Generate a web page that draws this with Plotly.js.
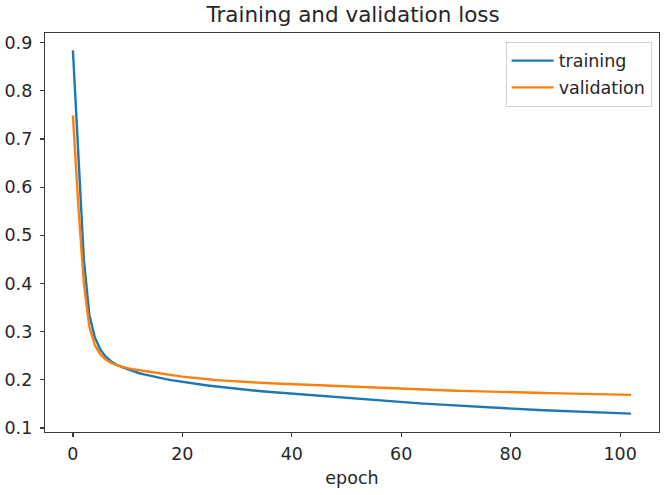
<!DOCTYPE html>
<html>
<head>
<meta charset="utf-8">
<script src="https://cdn.plot.ly/plotly-3.0.1.min.js"></script>
<style>
  html, body { margin: 0; padding: 0; background: #fff; }
  #chart { width: 665px; height: 495px; }
</style>
</head>
<body>
<div id="chart"></div>
<script>
// Loss per epoch for the training run
const epochs = Array.from({length: 103}, (_, i) => i);

const trainingLoss = [
  0.884, 0.660, 0.450, 0.335, 0.288, 0.263, 0.248, 0.238, 0.231, 0.226,
  0.2215, 0.2175, 0.2140, 0.2110, 0.2082, 0.2057, 0.2034, 0.2012, 0.1992, 0.1973,
  0.1955, 0.1938, 0.1921, 0.1905, 0.1890, 0.1876, 0.1862, 0.1849, 0.1837, 0.1826,
  0.1815, 0.1802, 0.1789, 0.1777, 0.1765, 0.1755, 0.1746, 0.1737, 0.1728, 0.1719,
  0.1710, 0.1700, 0.1690, 0.1680, 0.1670, 0.1660, 0.1651, 0.1643, 0.1635, 0.1626,
  0.1618, 0.1610, 0.1601, 0.1593, 0.1585, 0.1576, 0.1568, 0.1560, 0.1551, 0.1543,
  0.1535, 0.1528, 0.1520, 0.1513, 0.1505, 0.1498, 0.1491, 0.1484, 0.1476, 0.1469,
  0.1462, 0.1456, 0.1449, 0.1443, 0.1436, 0.1430, 0.1424, 0.1417, 0.1411, 0.1404,
  0.1398, 0.1393, 0.1387, 0.1382, 0.1377, 0.1371, 0.1366, 0.1361, 0.1356, 0.1350,
  0.1345, 0.1341, 0.1337, 0.1333, 0.1329, 0.1325, 0.1321, 0.1317, 0.1313, 0.1309,
  0.1305, 0.1301, 0.1297
];

const validationLoss = [
  0.749, 0.560, 0.400, 0.310, 0.272, 0.253, 0.242, 0.235, 0.2305, 0.2270,
  0.2240, 0.2219, 0.2200, 0.2181, 0.2163, 0.2145, 0.2128, 0.2111, 0.2095, 0.2080,
  0.2065, 0.2051, 0.2038, 0.2025, 0.2014, 0.2004, 0.1995, 0.1986, 0.1978, 0.1970,
  0.1962, 0.1956, 0.1950, 0.1943, 0.1937, 0.1932, 0.1927, 0.1921, 0.1916, 0.1911,
  0.1906, 0.1901, 0.1897, 0.1892, 0.1888, 0.1884, 0.1879, 0.1874, 0.1869, 0.1864,
  0.1859, 0.1854, 0.1848, 0.1843, 0.1838, 0.1833, 0.1828, 0.1823, 0.1818, 0.1814,
  0.1810, 0.1806, 0.1802, 0.1798, 0.1794, 0.1790, 0.1786, 0.1782, 0.1778, 0.1775,
  0.1772, 0.1769, 0.1765, 0.1762, 0.1758, 0.1755, 0.1752, 0.1749, 0.1746, 0.1743,
  0.1740, 0.1738, 0.1735, 0.1733, 0.1730, 0.1728, 0.1725, 0.1723, 0.1720, 0.1718,
  0.1716, 0.1713, 0.1711, 0.1708, 0.1706, 0.1704, 0.1701, 0.1699, 0.1696, 0.1694,
  0.1691, 0.1689, 0.1686
];

const xTicks = [0, 20, 40, 60, 80, 100];
const yTicks = [0.1, 0.2, 0.3, 0.4, 0.5, 0.6, 0.7, 0.8, 0.9];

const FONT = 'DejaVu Sans, sans-serif';
const INK = '#262626';

const traces = [
  {
    x: epochs, y: trainingLoss, name: 'training', legendgroup: 'a',
    type: 'scatter', mode: 'lines',
    line: {color: '#1f77b4', width: 2.4}
  },
  {
    x: epochs, y: validationLoss, name: 'validation', legendgroup: 'b',
    type: 'scatter', mode: 'lines',
    line: {color: '#ff7f0e', width: 2.4}
  }
];

const axisCommon = {
  showgrid: false, zeroline: false,
  showline: true, mirror: true, linecolor: '#3a3a3a', linewidth: 1.2,
  ticks: 'outside', ticklen: 4, tickwidth: 1.2, tickcolor: '#3a3a3a',
  tickfont: {family: FONT, size: 17.5, color: INK}
};

const layout = {
  width: 665, height: 495,
  paper_bgcolor: '#fff', plot_bgcolor: '#fff',
  margin: {l: 45, r: 6, t: 33, b: 63},
  title: {
    text: 'Training and validation loss',
    font: {family: FONT, size: 21.5, color: INK},
    x: 0.531, xanchor: 'center', y: 0.97, yanchor: 'middle'
  },
  xaxis: Object.assign({}, axisCommon, {
    range: [-5.1, 107.1], tickmode: 'array', tickvals: xTicks,
    ticklabelstandoff: 2,
    title: {text: 'epoch', font: {family: FONT, size: 17.5, color: INK}, standoff: 8}
  }),
  yaxis: Object.assign({}, axisCommon, {
    range: [0.0915, 0.92], tickmode: 'array', tickvals: yTicks,
    tickformat: '.1f', ticklabelstandoff: 4
  }),
  showlegend: true,
  legend: {
    x: 0.988, xanchor: 'right', y: 0.978, yanchor: 'top',
    bgcolor: 'rgba(255,255,255,0.8)', bordercolor: '#d0d0d0', borderwidth: 1,
    font: {family: FONT, size: 17.5, color: INK},
    itemwidth: 42,
    traceorder: 'grouped', tracegroupgap: 1
  }
};

Plotly.newPlot('chart', traces, layout, {displayModeBar: false, staticPlot: true});
</script>
</body>
</html>
